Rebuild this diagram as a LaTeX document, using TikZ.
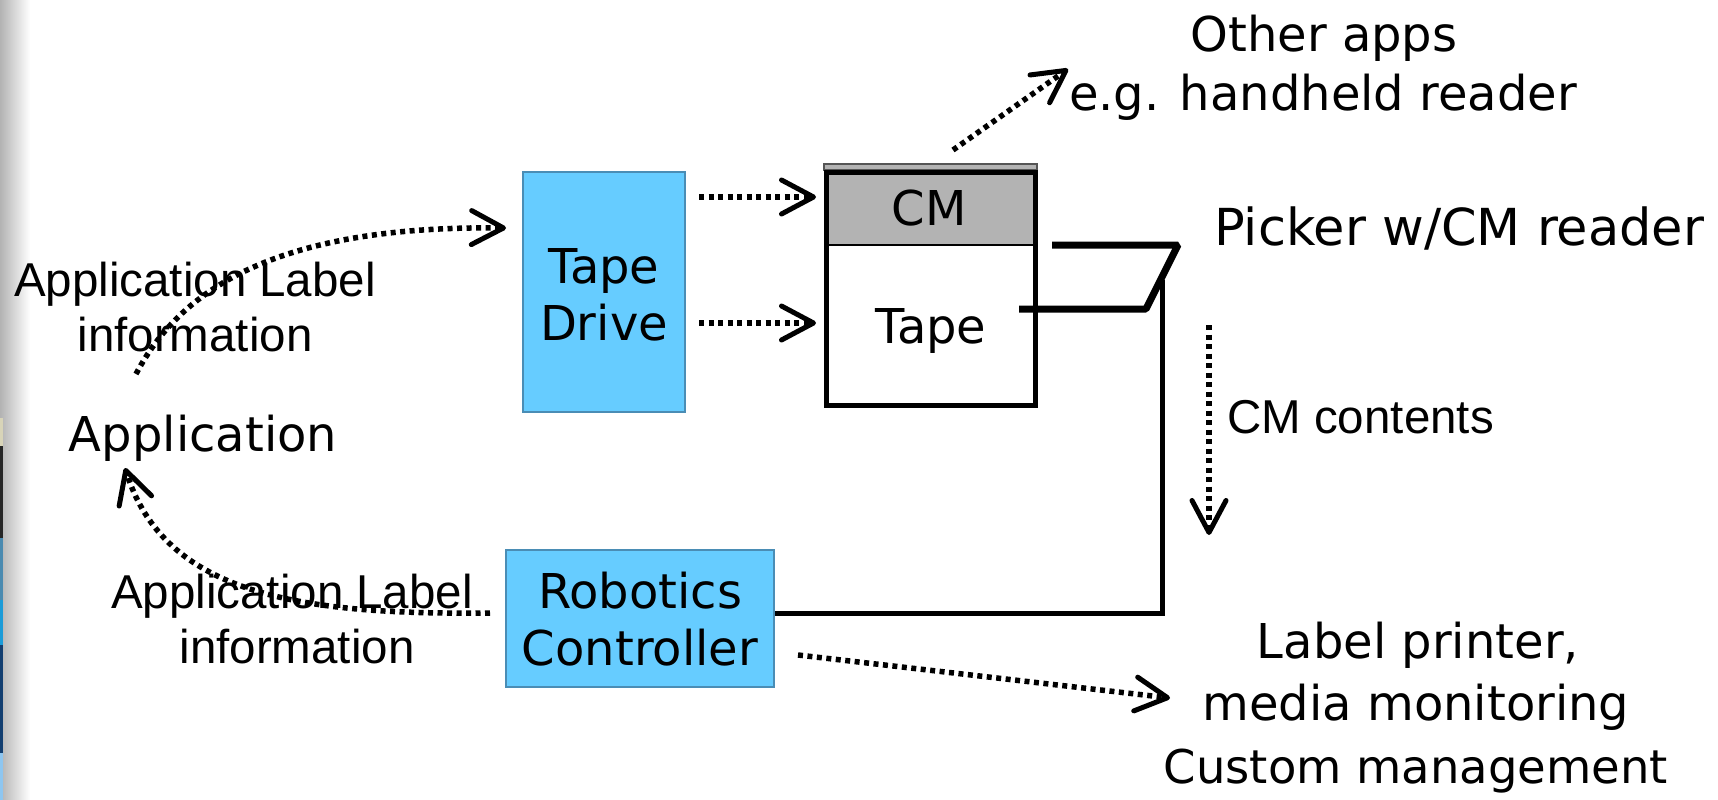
\documentclass[tikz,border=0pt]{standalone}
\usepackage{fontspec}
\setmainfont{DejaVu Sans}
\newfontfamily\arialfont{Liberation Sans}
\usetikzlibrary{arrows.meta,calc}
\definecolor{boxblue}{HTML}{66CCFF}
\definecolor{boxedge}{HTML}{4A8DB5}
\definecolor{cmgray}{HTML}{B3B3B3}
\definecolor{slabedge}{HTML}{555555}
\definecolor{edgetan}{HTML}{D8D4B8}
\definecolor{edgesteel}{HTML}{4A8AB0}
\definecolor{edgebright}{HTML}{1A9BD8}
\definecolor{edgedark}{HTML}{123E70}
\definecolor{edgelight}{HTML}{8EC6F0}
\begin{document}
\begin{tikzpicture}[x=1pt,y=-1pt,
  comic/.style={font=\fontsize{48}{58}\selectfont, inner sep=0pt, anchor=base},
  arial/.style={font=\arialfont\fontsize{47.5}{55}\selectfont, inner sep=0pt, anchor=base},
  bluebox/.style={draw=boxedge, fill=boxblue, line width=2pt, inner sep=0pt},
  dots/.style={line width=5.5pt, dash pattern=on 5pt off 4.5pt,
    -{Straight Barb[length=32pt,width=34pt,line width=5pt,round]}},
  solidline/.style={line width=5pt},
  picker/.style={line width=7pt, line join=bevel},
]
\useasboundingbox (0,0) rectangle (1718,800);
% slide edge
\shade[left color=gray!60, right color=white] (0,0) rectangle (30,800);
\fill[edgetan] (0,418) rectangle (3,446);
\fill[black!85] (0,446) rectangle (3,538);
\fill[edgesteel] (0,538) rectangle (3,600);
\fill[edgebright] (0,600) rectangle (3,645);
\fill[edgedark] (0,645) rectangle (3,753);
\fill[edgelight] (0,753) rectangle (3,800);

% Tape drive
\node[bluebox, minimum width=162, minimum height=240] (td) at (604,292) {};
\node[comic] (tdl1) at (604,283) {Tape};
\node[comic] (tdl2) at (604,340) {Drive};

% Robotics controller
\node[bluebox, minimum width=268, minimum height=137] (rc) at (640,618.5) {};
\node[comic] (rcl1) at (640,608) {Robotics};
\node[comic] (rcl2) at (640,665) {Controller};

% CM / tape cartridge
\draw[fill=cmgray, draw=slabedge, line width=1.2pt] (824,164) rectangle (1037,170);
\fill[cmgray] (826,172) rectangle (1035,245);
\draw[line width=2.5pt] (826,245) -- (1035,245);
\node[draw, line width=5pt, minimum width=209, minimum height=233, inner sep=0pt] (cm) at (930.5,288.5) {};
\node[comic] (cmlab) at (929,225) {CM};
\node[comic] (tapelab) at (931,343) {Tape};

% picker
\draw[picker] (1052,245) -- (1178,245) -- (1146,309) -- (1019,309);
\coordinate (pk) at (1162,280);
\draw[solidline, line join=miter] (pk) |- ($(rc.east)+(0,-5.5)$);

% labels
\node[comic] (app) at (203,451) {Application};
\node[arial] (al1) at (195,296) {Application Label};
\node[arial] (al2) at (195,351) {information};
\node[arial] (bl1) at (292,608) {Application Label};
\node[arial] (bl2) at (297,663) {information};
\node[comic] (oa1) at (1324,52) {Other apps};
\node[comic] (oa2) at (1323,110) {e.g. handheld reader};
\node[comic, anchor=base west, font=\fontsize{51}{58}\selectfont] (pick) at (1214,245) {Picker w/CM reader};
\node[arial, anchor=base west] (cmc) at (1227,433) {CM contents};
\node[comic] (lp1) at (1418,658) {Label printer,};
\node[comic] (lp2) at (1416,720) {media monitoring};
\node[comic, font=\fontsize{46.5}{58}\selectfont] (lp3) at (1416,783) {Custom management};

% arrows
\coordinate (a1s) at (699,197); \coordinate (a1e) at (816,197);
\coordinate (a2s) at (699,323); \coordinate (a2e) at (816,323);
\draw[dots] (a1s) -- (a1e);
\draw[dots] (a2s) -- (a2e);
\coordinate (oas) at (953,150); \coordinate (oae) at (1068,69);
\draw[dots] (oas) -- (oae);
\coordinate (ccs) at (1209,325); \coordinate (cce) at (1209,535);
\draw[dots] (ccs) -- (cce);
\coordinate (lps) at (798,655); \coordinate (lpe) at (1170,698);
\draw[dots] (lps) -- (lpe);
\coordinate (u0) at (136,374);
\coordinate (u1) at (506,228);
\draw[dots] (u0) .. controls (175,300) and (260,225) .. (u1);
\coordinate (l0) at (490,613);
\coordinate (l1) at (125,468);
\draw[dots] (l0) .. controls (300,615) and (165,595) .. (l1);
\end{tikzpicture}
\end{document}
